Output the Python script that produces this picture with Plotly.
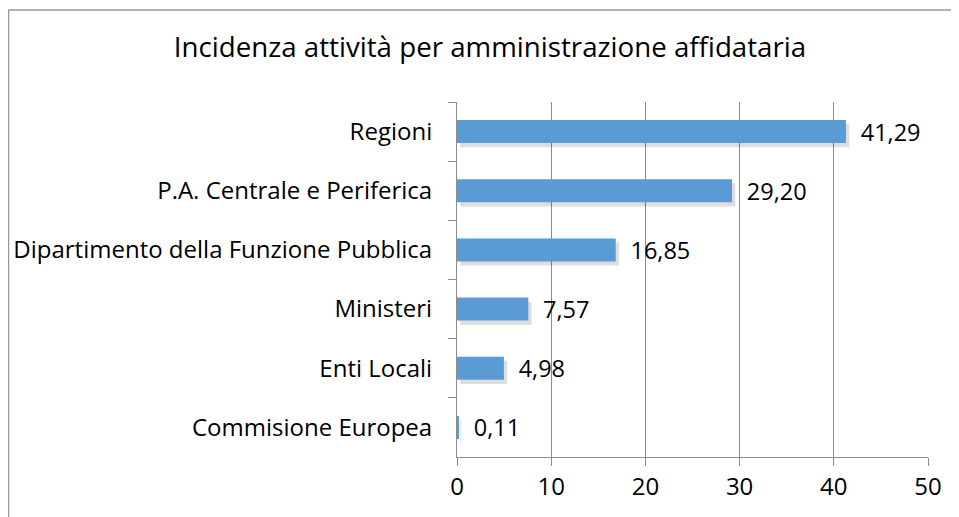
import plotly.graph_objects as go

categories = ["Regioni", "P.A. Centrale e Periferica", "Dipartimento della Funzione Pubblica",
              "Ministeri", "Enti Locali", "Commisione Europea"]
values = [41.29, 29.20, 16.85, 7.57, 4.98, 0.11]
value_labels = ["41,29", "29,20", "16,85", "7,57", "4,98", "0,11"]
x_ticks = [0, 10, 20, 30, 40, 50]

FONT = "Open Sans, sans-serif"
BAR_W = 0.39
W, H = 943, 509
L, R, T, B = 449, 23, 94, 60
PW, PH = W - L - R, H - T - B

fig = go.Figure()
# soft shadow
fig.add_trace(go.Bar(
    y=categories, x=values, base=0.35, orientation="h",
    width=BAR_W, offset=-BAR_W / 2 + 0.07,
    marker=dict(color="rgba(0,0,0,0.13)", line=dict(width=0)),
    hoverinfo="skip", showlegend=False,
))
fig.add_trace(go.Bar(
    y=categories, x=values, orientation="h",
    width=BAR_W, offset=-BAR_W / 2,
    marker=dict(color="#5B9BD5", line=dict(width=0)),
    text=value_labels, texttemplate="\u2002%{text}",
    textposition="outside", cliponaxis=False, constraintext="none",
    textfont=dict(family=FONT, size=23.5, color="#000"),
    outsidetextfont=dict(family=FONT, size=23.5, color="#000"),
    showlegend=False,
))

border = dict(color="#999999", width=1.5)
fig.update_layout(
    width=W, height=H,
    margin=dict(l=L, r=R, t=T, b=B, autoexpand=False),
    paper_bgcolor="white", plot_bgcolor="white",
    barmode="overlay",
    title=dict(text="Incidenza attività per amministrazione affidataria",
               x=(490 - 8) / W, xanchor="center", y=1 - 39 / H, yanchor="middle",
               font=dict(family=FONT, size=27.7, color="#000")),
    xaxis=dict(range=[0, 50], tickvals=x_ticks, ticktext=[str(v) for v in x_ticks],
               showgrid=True, gridcolor="#8c8c8c", gridwidth=1,
               showline=True, linecolor="#8c8c8c", linewidth=1,
               ticks="outside", ticklen=8, tickcolor="#8c8c8c",
               tickfont=dict(family=FONT, size=24, color="#000"),
               zeroline=False, fixedrange=True, automargin=False),
    yaxis=dict(autorange="reversed", categoryorder="array", categoryarray=categories,
               showline=True, linecolor="#8c8c8c", linewidth=1,
               ticks="outside", ticklen=8, tickcolor="#8c8c8c", tickson="boundaries",
               ticklabelstandoff=19,
               tickfont=dict(family=FONT, size=24, color="#000"),
               showgrid=False, fixedrange=True, automargin=False),
    shapes=[
        dict(type="line", xref="paper", yref="paper", layer="below",
             x0=(0.5 - L) / PW, x1=(W - L) / PW, y0=(PH + T - 2) / PH, y1=(PH + T - 2) / PH,
             line=border),
        dict(type="line", xref="paper", yref="paper", layer="below",
             x0=(0.5 - L) / PW, x1=(0.5 - L) / PW, y0=-B / PH, y1=(PH + T - 2) / PH,
             line=border),
    ],
)

fig.write_html("out.html")
